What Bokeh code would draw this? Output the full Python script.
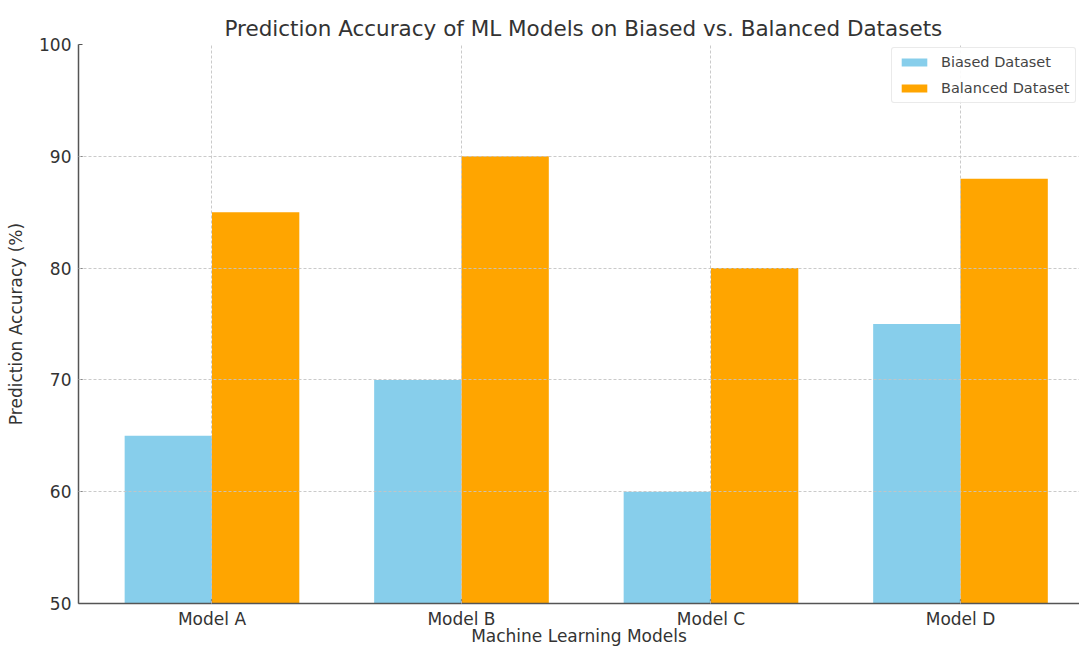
from bokeh.plotting import figure
from bokeh.models import ColumnDataSource, Range1d, FixedTicker, Legend, LegendItem
from bokeh.embed import file_html
from bokeh.resources import INLINE

# Data
models = ["Model A", "Model B", "Model C", "Model D"]
biased = [65, 70, 60, 75]
balanced = [85, 90, 80, 88]
y_ticks = [50, 60, 70, 80, 90, 100]

FONT = "DejaVu Sans"
TEXT = "#333333"
BLUE = "#87CEEB"
ORANGE = "#FFA500"
BAR_W = 0.35

pos = list(range(len(models)))
src = ColumnDataSource(dict(
    x_biased=[i - BAR_W / 2 for i in pos],
    x_balanced=[i + BAR_W / 2 for i in pos],
    biased=biased,
    balanced=balanced,
))

p = figure(width=1079, height=648, output_backend="svg", toolbar_location=None,
           x_range=Range1d(-0.535, 3.477), y_range=Range1d(50, 100),
           min_border_left=78, min_border_right=0, min_border_top=44, min_border_bottom=45,
           title="Prediction Accuracy of ML Models on Biased vs. Balanced Datasets")
p.outline_line_color = None
p.background_fill_color = "white"
p.border_fill_color = "white"

p.title.text_font = FONT
p.title.text_font_size = "21.5px"
p.title.text_font_style = "normal"
p.title.text_color = TEXT
p.title.align = "left"
p.title.offset = 146
p.title.standoff = 8

r1 = p.vbar(x="x_biased", top="biased", bottom=50, width=BAR_W, source=src,
            fill_color=BLUE, line_color=None)
r2 = p.vbar(x="x_balanced", top="balanced", bottom=50, width=BAR_W, source=src,
            fill_color=ORANGE, line_color=None)

# Axes
p.xaxis.ticker = FixedTicker(ticks=pos)
p.xaxis.major_label_overrides = {i: m for i, m in enumerate(models)}
p.yaxis.ticker = FixedTicker(ticks=y_ticks)
for ax in (p.xaxis[0], p.yaxis[0]):
    ax.axis_line_color = "#555555"
    ax.axis_line_width = 1.5
    ax.major_tick_line_color = "#555555"
    ax.major_tick_line_width = 1.2
    ax.major_tick_in = 4
    ax.major_tick_out = 0
    ax.minor_tick_line_color = None
    ax.major_label_text_font = FONT
    ax.major_label_text_font_size = "17px"
    ax.major_label_text_color = TEXT
    ax.axis_label_text_font = FONT
    ax.axis_label_text_font_size = "17px"
    ax.axis_label_text_font_style = "normal"
    ax.axis_label_text_color = TEXT

p.yaxis.major_label_standoff = 7
p.xaxis.major_label_standoff = 5
p.yaxis.axis_label = "Prediction Accuracy (%)"
p.yaxis.axis_label_standoff = 10
p.xaxis.axis_label = "Machine Learning Models"
p.xaxis.axis_label_standoff = -6

# Grid (drawn over the bars)
for g in (p.xgrid[0], p.ygrid[0]):
    g.grid_line_color = "#c4c4c4"
    g.grid_line_dash = "3 2"
    g.grid_line_width = 0.9
    g.level = "guide"
p.xgrid.ticker = FixedTicker(ticks=pos)
p.ygrid.ticker = FixedTicker(ticks=y_ticks)

# Legend
legend = Legend(items=[LegendItem(label="Biased Dataset", renderers=[r1]),
                       LegendItem(label="Balanced Dataset", renderers=[r2])],
                location=(813, 500), orientation="vertical")
legend.label_text_font = FONT
legend.label_text_font_size = "14.5px"
legend.label_text_color = "#444444"
legend.glyph_width = 32
legend.glyph_height = 10
legend.label_height = 14
legend.label_standoff = 11
legend.spacing = 10
legend.padding = 6
legend.margin = 0
legend.border_line_color = "#d6d6d6"
legend.border_line_width = 1
legend.border_radius = 3
legend.background_fill_alpha = 0.9
p.add_layout(legend)

open("out.html", "w").write(file_html(p, INLINE))
